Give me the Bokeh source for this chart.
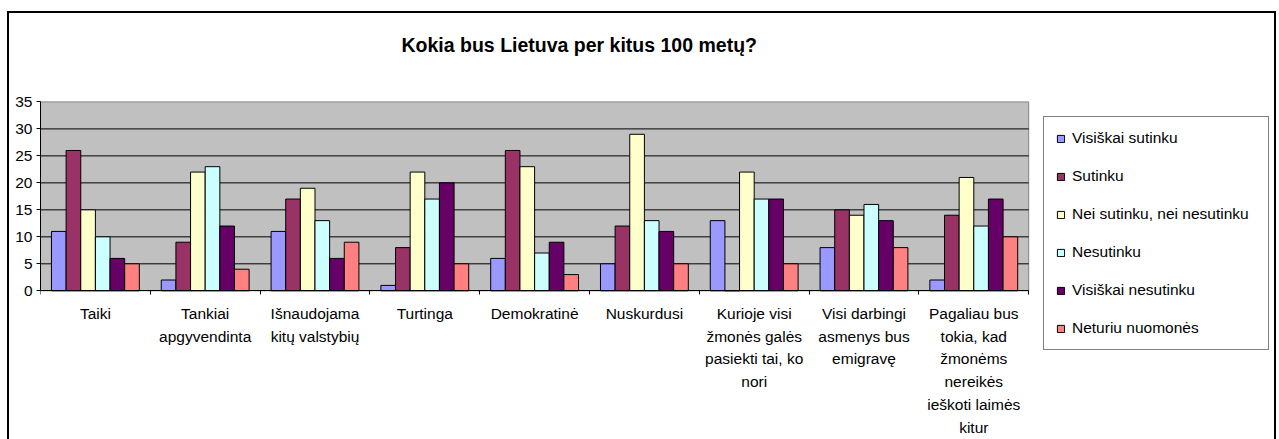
import numpy as np
from bokeh.plotting import figure
from bokeh.models import (Range1d, FixedTicker, Legend, LegendItem, LinearAxis,
                          Label)
from bokeh.embed import file_html
from bokeh.resources import INLINE

categories = [
    "Taiki",
    "Tankiai\napgyvendinta",
    "Išnaudojama\nkitų valstybių",
    "Turtinga",
    "Demokratinė",
    "Nuskurdusi",
    "Kurioje visi\nžmonės galės\npasiekti tai, ko\nnori",
    "Visi darbingi\nasmenys bus\nemigravę",
    "Pagaliau bus\ntokia, kad\nžmonėms\nnereikės\nieškoti laimės\nkitur",
]
series_names = [
    "Visiškai sutinku",
    "Sutinku",
    "Nei sutinku, nei nesutinku",
    "Nesutinku",
    "Visiškai nesutinku",
    "Neturiu nuomonės",
]
visiskai_sutinku = [11, 2, 11, 1, 6, 5, 13, 8, 2]
sutinku = [26, 9, 17, 8, 26, 12, 0, 15, 14]
nei_nei = [15, 22, 19, 22, 23, 29, 22, 14, 21]
nesutinku = [10, 23, 13, 17, 7, 13, 17, 16, 12]
visiskai_nesutinku = [6, 12, 6, 20, 9, 11, 17, 13, 17]
neturiu_nuomones = [5, 4, 9, 5, 3, 5, 5, 8, 10]
series_values = [visiskai_sutinku, sutinku, nei_nei, nesutinku,
                 visiskai_nesutinku, neturiu_nuomones]
colors = ["#9999FF", "#993366", "#FFFFCC", "#CCFFFF", "#660066", "#FF8080"]
y_ticks = [0, 5, 10, 15, 20, 25, 30, 35]
title_text = "Kokia bus Lietuva per kitus 100 metų?"

FONT = "Liberation Sans"
NCAT = len(categories)
YMAX = y_ticks[-1]

# ---- layout (page pixels) ----
CANVAS_LEFT, CANVAS_TOP, CANVAS_RIGHT, CANVAS_BOTTOM = 9, 13, 1274, 439
AREA_LEFT, AREA_RIGHT, AREA_TOP, AREA_BOTTOM = 40, 1025, 101, 289
px_x = (AREA_RIGHT - AREA_LEFT) / NCAT
px_y = (AREA_BOTTOM - AREA_TOP) / YMAX
x_end = (CANVAS_RIGHT - AREA_LEFT) / px_x
y_start = -(CANVAS_BOTTOM - AREA_BOTTOM) / px_y
y_end = YMAX + (AREA_TOP - CANVAS_TOP) / px_y


def data_x(px):
    return (px - AREA_LEFT) / px_x


def data_y(py):
    return (AREA_BOTTOM - py) / px_y


p = figure(width=CANVAS_RIGHT - CANVAS_LEFT + 4, height=CANVAS_BOTTOM - CANVAS_TOP + 2,
           output_backend="svg", toolbar_location=None,
           x_range=Range1d(0, x_end), y_range=Range1d(y_start, y_end),
           x_axis_location=None,
           min_border_left=AREA_LEFT - CANVAS_LEFT, min_border_right=0,
           min_border_top=0, min_border_bottom=0)
p.styles = {"position": "absolute", "left": "7px", "top": "11px",
            "border-left": "2px solid black", "border-top": "2px solid black",
            "border-right": "2px solid black"}

p.background_fill_color = "white"
p.border_fill_color = "white"
p.outline_line_color = None
p.grid.visible = False

# plot area
p.quad(left=0, right=NCAT, bottom=0, top=YMAX, fill_color="#C0C0C0",
       line_color="#808080", line_width=1)
grid_y = y_ticks[1:-1]
p.segment(x0=[0] * len(grid_y), x1=[NCAT] * len(grid_y), y0=grid_y, y1=grid_y,
          line_color="black", line_width=1)

n = len(series_names)
bw = 1.0 / (n + 1.5)
centers = np.arange(NCAT) + 0.5
items = []
for j, (name, vals, c) in enumerate(zip(series_names, series_values, colors)):
    xs = centers + (j - (n - 1) / 2) * bw
    r = p.vbar(x=xs, top=vals, width=bw, fill_color=c, line_color="black",
               line_width=1)
    items.append(LegendItem(label=name, renderers=[r]))

# title
p.add_layout(Label(x=data_x(577), y=data_y(44), text=title_text,
                   text_align="center", text_baseline="middle",
                   text_font=FONT, text_font_size="19.5px",
                   text_font_style="bold", text_color="black"))

# x axis
xa = LinearAxis(fixed_location=0, bounds=(0, NCAT))
xa.ticker = FixedTicker(ticks=list(centers), minor_ticks=list(range(NCAT + 1)))
xa.major_label_overrides = {float(c): lab for c, lab in zip(centers, categories)}
xa.major_tick_line_color = None
xa.major_tick_out = 0
xa.major_tick_in = 0
xa.minor_tick_line_color = "black"
xa.minor_tick_out = 4
xa.minor_tick_in = 0
xa.axis_line_color = "black"
xa.major_label_text_font = FONT
xa.major_label_text_font_size = "15.5px"
xa.major_label_text_color = "black"
xa.major_label_text_line_height = 1.34
xa.major_label_standoff = 10
xa.major_label_orientation = "horizontal"
p.add_layout(xa, "below")

# y axis
ya = p.yaxis[0]
ya.ticker = FixedTicker(ticks=y_ticks)
ya.bounds = (0, YMAX)
ya.minor_tick_line_color = None
ya.major_tick_out = 4
ya.major_tick_in = 0
ya.major_tick_line_color = "black"
ya.axis_line_color = "black"
ya.major_label_text_font = FONT
ya.major_label_text_font_size = "15.5px"
ya.major_label_text_color = "black"
ya.major_label_standoff = 4

# legend
LEG_LEFT, LEG_BOTTOM = 1043, 348
legend = Legend(items=items,
                location=(LEG_LEFT - AREA_LEFT, CANVAS_BOTTOM - LEG_BOTTOM))
legend.label_text_font = FONT
legend.label_text_font_size = "15.5px"
legend.label_text_color = "black"
legend.glyph_width = 9
legend.glyph_height = 9
legend.label_standoff = 7
legend.label_height = 15
legend.label_width = 184
legend.spacing = 20
legend.padding = 12
legend.margin = 0
legend.border_line_color = "black"
legend.border_line_width = 1
legend.background_fill_color = "white"
legend.background_fill_alpha = 1
p.add_layout(legend, "center")

open("out.html", "w").write(file_html(p, INLINE))
